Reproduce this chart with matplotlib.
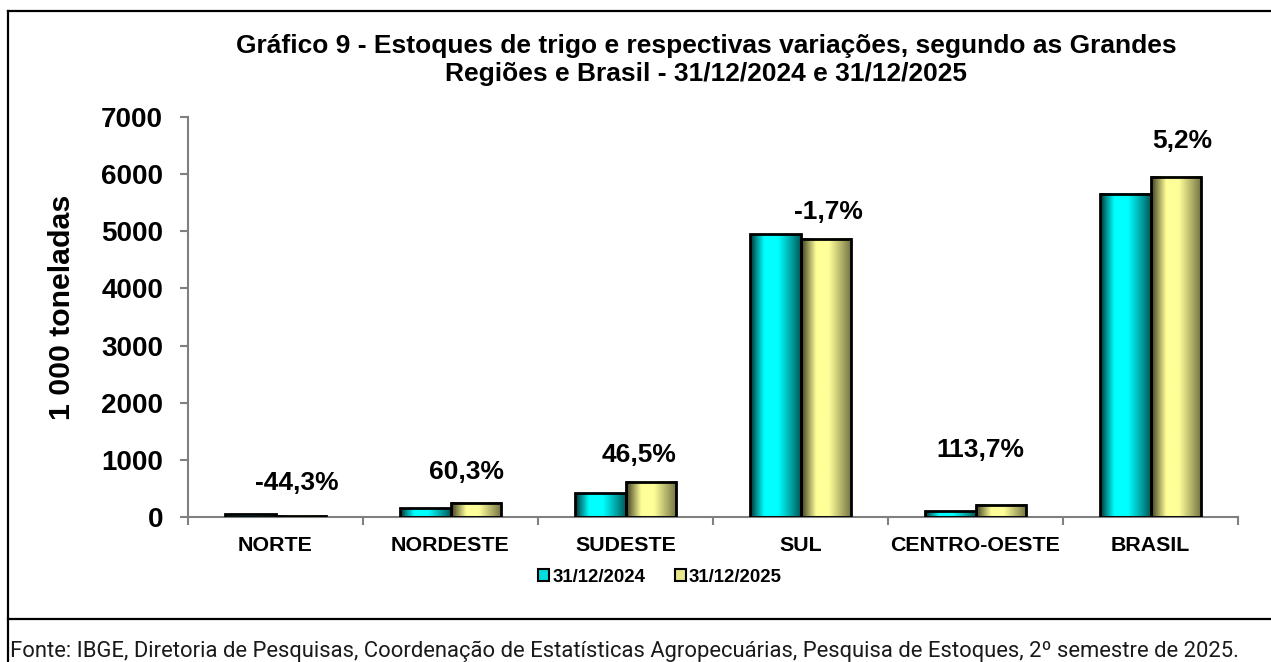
import numpy as np
import matplotlib
matplotlib.use("Agg")
import matplotlib.pyplot as plt
from matplotlib.colors import LinearSegmentedColormap
from matplotlib.lines import Line2D
from matplotlib.patches import Patch

# ---------------- data ----------------
categories = ["NORTE", "NORDESTE", "SUDESTE", "SUL", "CENTRO-OESTE", "BRASIL"]
stock_2024 = [45, 157, 420, 4950, 100, 5660]
stock_2025 = [25, 252, 615, 4866, 214, 5955]
variation_labels = ["-44,3%", "60,3%", "46,5%", "-1,7%", "113,7%", "5,2%"]
series_names = ["31/12/2024", "31/12/2025"]
yticks = [0, 1000, 2000, 3000, 4000, 5000, 6000, 7000]

# label layout (x offset in category units, y in data units)
label_dx = [0.12, 0.094, 0.077, 0.157, 0.03, 0.18]
label_y = [589, 781, 1078, 5340, 1165, 6580]

title = ("Gráfico 9 - Estoques de trigo e respectivas variações, segundo as Grandes\n"
         "Regiões e Brasil - 31/12/2024 e 31/12/2025")
source = ("Fonte: IBGE, Diretoria de Pesquisas, Coordenação de Estatísticas Agropecuárias, "
          "Pesquisa de Estoques, 2º semestre de 2025.")

FONT = "Liberation Sans"
W, H = 1271, 662
fig = plt.figure(figsize=(W / 100, H / 100), dpi=100)
fig.patch.set_facecolor("white")

ax = fig.add_axes([188 / W, 1 - 517 / H, (1238 - 188) / W, 400 / H])

cyan_cmap = LinearSegmentedColormap.from_list(
    "cy", [(0.0, "#002a2a"), (0.12, "#008c8c"), (0.28, "#00ffff"),
           (0.55, "#00ffff"), (0.8, "#00a8a8"), (1.0, "#005858")])
yellow_cmap = LinearSegmentedColormap.from_list(
    "ye", [(0.0, "#3a3a20"), (0.12, "#8a8a50"), (0.3, "#ffff99"),
           (0.55, "#ffff99"), (0.8, "#b0b068"), (1.0, "#6e6e40")])

grad = np.linspace(0, 1, 256).reshape(1, -1)
n = len(categories)
x = np.arange(n)
bw = 0.286

for vals, off, cmap in [(stock_2024, -bw / 2, cyan_cmap), (stock_2025, bw / 2, yellow_cmap)]:
    for xi, v in zip(x, vals):
        x0 = xi + off - bw / 2
        x1 = xi + off + bw / 2
        ax.imshow(grad, cmap=cmap, extent=(x0, x1, 0, v), aspect="auto",
                  interpolation="bicubic", zorder=2)
    ax.bar(x + off, vals, width=bw, facecolor="none", edgecolor="black",
           linewidth=2.0, zorder=3)

for xi, lab, dx, ly in zip(x, variation_labels, label_dx, label_y):
    ax.text(xi + dx, ly, lab, ha="center", va="center", fontsize=19,
            fontweight="bold", family=FONT, color="black")

ax.set_xlim(-0.5, n - 0.5)
ax.set_ylim(0, 7000)
ax.set_yticks(yticks)
ax.set_yticklabels([str(t) for t in yticks], fontsize=20, fontweight="bold", family=FONT)
ax.set_xticks(np.arange(-0.5, n, 1.0))
ax.set_xticklabels([])
ax.set_xticks(x, minor=True)
ax.set_xticklabels(categories, minor=True, fontsize=15.4, fontweight="bold", family=FONT)
ax.tick_params(axis="x", which="minor", length=0, pad=14)
ax.tick_params(axis="x", which="major", length=6, width=1.5, color="#808080", direction="out")
ax.tick_params(axis="y", length=6, width=1.5, color="#808080", direction="out", pad=12)

for s in ["top", "right"]:
    ax.spines[s].set_visible(False)
for s in ["left", "bottom"]:
    ax.spines[s].set_color("#808080")
    ax.spines[s].set_linewidth(1.5)
ax.set_facecolor("none")

fig.text(62 / W, 1 - 307 / H, "1 000 toneladas", rotation=90, ha="center", va="center",
         fontsize=21.8, fontweight="bold", family=FONT)

fig.text(706 / W, 1 - 60 / H, title, ha="center", va="center", fontsize=19,
         fontweight="bold", family=FONT, linespacing=1.2)

handles = [Patch(facecolor="#00dede", edgecolor="black", linewidth=1.5),
           Patch(facecolor="#e6e68a", edgecolor="black", linewidth=1.5)]
fig.legend(handles, series_names, loc="center", bbox_to_anchor=(660 / W, 1 - 577 / H),
           ncol=2, frameon=False, prop={"family": FONT, "weight": "bold", "size": 13.4},
           handlelength=0.6, handleheight=0.6, handletextpad=0.15, columnspacing=1.6)

# frame lines
lw = 1.6
fig.add_artist(Line2D([8 / W, 1], [1 - 11 / H, 1 - 11 / H], color="black", linewidth=lw,
                      transform=fig.transFigure))
fig.add_artist(Line2D([8 / W, 8 / W], [0, 1 - 11 / H], color="black", linewidth=lw,
                      transform=fig.transFigure))
fig.add_artist(Line2D([8 / W, 1], [1 - 619 / H, 1 - 619 / H], color="black", linewidth=lw,
                      transform=fig.transFigure))

fig.text(10 / W, 1 - 651 / H, source, ha="left", va="center", fontsize=15.8,
         family="Roboto", color="#1a1a1a")

fig.savefig("out.png", dpi=100)
